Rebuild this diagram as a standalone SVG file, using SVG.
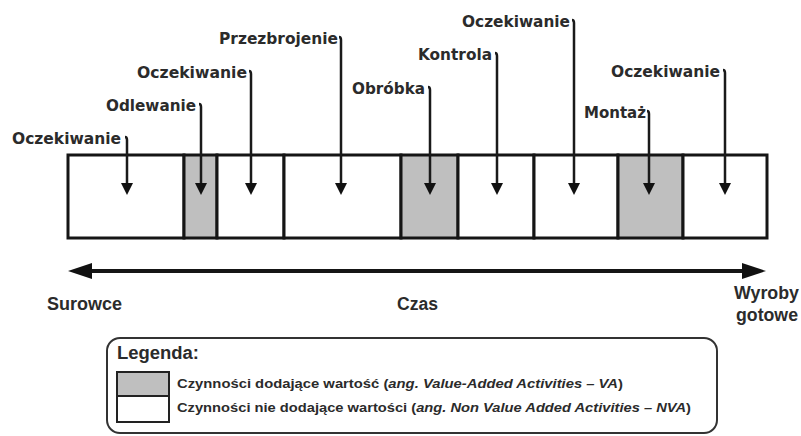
<svg xmlns="http://www.w3.org/2000/svg" width="801" height="436" viewBox="0 0 801 436">
  <style>
    .bg { fill: #ffffff; }
    .cell { stroke: #151515; stroke-width: 3; }
    .va { fill: #bfbfbf; }
    .nva { fill: #ffffff; }
    .lbl { font-family: "DejaVu Sans", "Liberation Sans", sans-serif; font-weight: bold; font-size: 15px; fill: #2b2b2b; }
    .ax { font-family: "Liberation Sans", Arial, sans-serif; font-weight: bold; font-size: 17.5px; fill: #2b2b2b; }
    .leg { font-family: "Liberation Sans", Arial, sans-serif; font-weight: bold; font-size: 12.5px; fill: #2b2b2b; }
    .it { font-style: italic; }
    .ptr { fill: none; stroke: #1a1a1a; stroke-width: 2.5; marker-end: url(#tip); }
    .axis { fill: none; stroke: #151515; stroke-width: 4; marker-start: url(#axhead); marker-end: url(#axhead); }
  </style>
  <defs>
    <marker id="tip" markerUnits="userSpaceOnUse" viewBox="0 0 12 12" markerWidth="12" markerHeight="12" refX="3" refY="6" orient="auto">
      <path d="M0,0 L12,6 L0,12 z" fill="#111"/>
    </marker>
    <marker id="axhead" markerUnits="userSpaceOnUse" viewBox="0 0 24 16" markerWidth="24" markerHeight="16" refX="12" refY="8" orient="auto-start-reverse">
      <path d="M0,0 L24,8 L0,16 z" fill="#111"/>
    </marker>
  </defs>

  <rect class="bg" x="0" y="0" width="801" height="436"/>

  <!-- activity cells along the process bar -->
  <g id="cell-oczekiwanie-1"><rect class="cell nva" x="68" y="155" width="116" height="83"/></g>
  <g id="cell-odlewanie"><rect class="cell va" x="184" y="155" width="33" height="83"/></g>
  <g id="cell-oczekiwanie-2"><rect class="cell nva" x="217" y="155" width="67" height="83"/></g>
  <g id="cell-przezbrojenie"><rect class="cell nva" x="284" y="155" width="117" height="83"/></g>
  <g id="cell-obrobka"><rect class="cell va" x="401" y="155" width="57" height="83"/></g>
  <g id="cell-kontrola"><rect class="cell nva" x="458" y="155" width="76" height="83"/></g>
  <g id="cell-oczekiwanie-3"><rect class="cell nva" x="534" y="155" width="84" height="83"/></g>
  <g id="cell-montaz"><rect class="cell va" x="618" y="155" width="65" height="83"/></g>
  <g id="cell-oczekiwanie-4"><rect class="cell nva" x="683" y="155" width="84" height="83"/></g>

  <!-- activity labels -->
  <g id="label-oczekiwanie-1"><text class="lbl" x="12" y="144" textLength="109" lengthAdjust="spacingAndGlyphs">Oczekiwanie</text></g>
  <g id="label-odlewanie"><text class="lbl" x="106" y="111" textLength="90" lengthAdjust="spacingAndGlyphs">Odlewanie</text></g>
  <g id="label-oczekiwanie-2"><text class="lbl" x="137" y="78" textLength="110" lengthAdjust="spacingAndGlyphs">Oczekiwanie</text></g>
  <g id="label-przezbrojenie"><text class="lbl" x="219" y="44" textLength="119" lengthAdjust="spacingAndGlyphs">Przezbrojenie</text></g>
  <g id="label-obrobka"><text class="lbl" x="352" y="94" textLength="73" lengthAdjust="spacingAndGlyphs">Obróbka</text></g>
  <g id="label-kontrola"><text class="lbl" x="418" y="60" textLength="74" lengthAdjust="spacingAndGlyphs">Kontrola</text></g>
  <g id="label-oczekiwanie-3"><text class="lbl" x="462" y="27" textLength="108" lengthAdjust="spacingAndGlyphs">Oczekiwanie</text></g>
  <g id="label-montaz"><text class="lbl" x="584" y="118" textLength="62" lengthAdjust="spacingAndGlyphs">Montaż</text></g>
  <g id="label-oczekiwanie-4"><text class="lbl" x="611" y="77" textLength="109" lengthAdjust="spacingAndGlyphs">Oczekiwanie</text></g>

  <!-- pointers from labels into cells -->
  <g id="connectors">
    <path class="ptr" d="M125,137 Q127,137 127,140 V186"/>
    <path class="ptr" d="M199,104 Q201,104 201,107 V186"/>
    <path class="ptr" d="M249,71 Q251,71 251,74 V186"/>
    <path class="ptr" d="M339,37 Q341,37 341,40 V186"/>
    <path class="ptr" d="M428,87 Q430,87 430,90 V186"/>
    <path class="ptr" d="M495,53 Q497,53 497,56 V186"/>
    <path class="ptr" d="M572,20 Q574,20 574,23 V186"/>
    <path class="ptr" d="M647,111 Q649,111 649,114 V186"/>
    <path class="ptr" d="M723,70 Q725,70 725,73 V186"/>
    <path class="axis" d="M80,271 H754"/>
  </g>

  <!-- time axis labels -->
  <g id="axis-labels">
    <text class="ax" x="47" y="310" textLength="75" lengthAdjust="spacingAndGlyphs">Surowce</text>
    <text class="ax" x="397" y="310" textLength="41" lengthAdjust="spacingAndGlyphs">Czas</text>
    <text class="ax" x="734" y="299" textLength="65" lengthAdjust="spacingAndGlyphs">Wyroby</text>
    <text class="ax" x="736" y="321" textLength="62" lengthAdjust="spacingAndGlyphs">gotowe</text>
  </g>

  <!-- legend -->
  <g id="legend">
    <rect x="107" y="338" width="610" height="95" rx="13" fill="#ffffff" stroke="#333" stroke-width="2"/>
    <text class="ax" x="117" y="359" textLength="82" lengthAdjust="spacingAndGlyphs">Legenda:</text>
    <rect class="va" x="117" y="372" width="52" height="24" stroke="#222" stroke-width="2"/>
    <rect class="nva" x="117" y="396" width="52" height="26" stroke="#222" stroke-width="2"/>
    <text class="leg" x="177" y="388" textLength="446" lengthAdjust="spacingAndGlyphs">Czynności dodające wartość (<tspan class="it">ang.</tspan> <tspan class="it">Value-Added Activities – VA</tspan>)</text>
    <text class="leg" x="177" y="412" textLength="514" lengthAdjust="spacingAndGlyphs">Czynności nie dodające wartości (<tspan class="it">ang.</tspan> <tspan class="it">Non Value Added Activities – NVA</tspan>)</text>
  </g>
</svg>
